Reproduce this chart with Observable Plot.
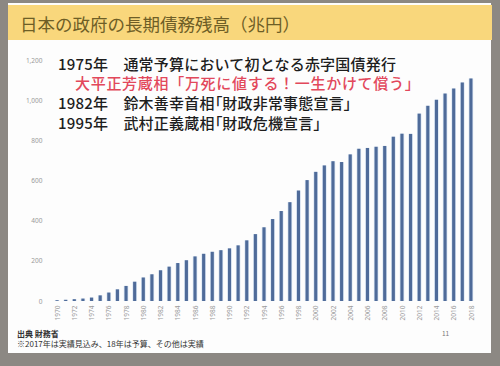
<!DOCTYPE html>
<html>
<head>
<meta charset="utf-8">
<script src="https://cdn.jsdelivr.net/npm/d3@7"></script>
<script src="https://cdn.jsdelivr.net/npm/@observablehq/plot@0.6"></script>
<style>
  html, body { margin: 0; padding: 0; }
  #wrap { position: relative; width: 500px; height: 366px; background: #8c8883; overflow: hidden;
          font-family: "Noto Sans CJK JP", "Noto Sans", sans-serif; }
  #slide { position: absolute; left: 8px; top: 3px; width: 483px; height: 350px; background: #fdfdfd; }
  #titlebar { position: absolute; left: 8px; top: 5px; width: 484px; height: 35px; background: #f9d77c; }
  #title { position: absolute; left: 20px; top: 11px; font-size: 17.5px; line-height: 26px; color: #6e5e26; white-space: nowrap; }
  #chart { position: absolute; left: 0; top: 0; }
  .ann { position: absolute; white-space: nowrap; font-size: 15px; line-height: 16px; color: #1e1e1e; font-weight: 500; letter-spacing: 0.2px; }
  .red { color: #e2485b; letter-spacing: 0.7px; }
  .pal { font-feature-settings: "palt"; }
  .foot { position: absolute; left: 17px; white-space: nowrap; font-size: 8px; line-height: 10px; color: #333; }
</style>
</head>
<body>
<div id="wrap">
  <div id="slide"></div>
  <div id="titlebar"></div>
  <div id="title">日本の政府の長期債務残高（兆円）</div>
  <div id="chart"></div>
  <div class="ann" style="left:58px; top:56px;">1975年&#x3000;通常予算において初となる赤字国債発行</div>
  <div class="ann red" style="left:75px; top:75px;">大平正芳蔵相「万死に値する！一生かけて償う」</div>
  <div class="ann pal" style="left:58px; top:95px;">1982年&#x3000;鈴木善幸首相「財政非常事態宣言」</div>
  <div class="ann pal" style="left:58px; top:115px;">1995年&#x3000;武村正義蔵相「財政危機宣言」</div>
  <div class="foot" style="top:329px; font-weight:bold;">出典 財務省</div>
  <div class="foot" style="top:339px;">※2017年は実績見込み、18年は予算、その他は実績</div>
  <div class="foot" style="left:442px; top:328px; font-size:6.5px; color:#777;">11</div>
</div>
<script>
const years = [1970,1971,1972,1973,1974,1975,1976,1977,1978,1979,
               1980,1981,1982,1983,1984,1985,1986,1987,1988,1989,
               1990,1991,1992,1993,1994,1995,1996,1997,1998,1999,
               2000,2001,2002,2003,2004,2005,2006,2007,2008,2009,
               2010,2011,2012,2013,2014,2015,2016,2017,2018];
const debt = [4,6,9,12,17,28,42,58,75,96,
              117,133,153,171,189,203,222,235,245,253,
              262,277,302,333,367,408,448,492,550,602,
              643,675,696,692,730,758,762,768,772,818,
              833,832,933,972,1002,1033,1058,1088,1108];
const xTickLabels = [1970,1972,1974,1976,1978,1980,1982,1984,1986,1988,1990,1992,1994,
                     1996,1998,2000,2002,2004,2006,2008,2010,2012,2014,2016,2018];
const yTicks = [0,200,400,600,800,1000,1200];
const gridTicks = [200,400,600,800,1000,1200];

const data = years.map((y, i) => ({year: y, value: debt[i]}));

const chart = Plot.plot({
  width: 500,
  height: 366,
  marginLeft: 50,
  marginRight: 22,
  marginTop: 60,
  marginBottom: 65,
  style: {background: "transparent", overflow: "visible", fontFamily: "Noto Sans, sans-serif"},
  x: {type: "band", domain: years, padding: 0.64, label: null},
  y: {domain: [0, 1200], label: null},
  marks: [
    Plot.ruleY(gridTicks, {x1: 53, x2: 478, stroke: "#e3e3e3", strokeWidth: 1}),
    Plot.barY(data, {x: "year", y: "value", fill: "#b4cde9", fillOpacity: 0.5, insetLeft: -0.7, insetRight: -0.7}),
    Plot.barY(data, {x: "year", y: "value", fill: "#4f6b99"}),
    Plot.axisY(yTicks, {tickFormat: d3.format(","), tickSize: 0, tickPadding: 8, fontSize: 6.5, fill: "#9a9a9a", label: null}),
    Plot.axisX(xTickLabels, {tickFormat: d => String(d), tickSize: 0, tickPadding: 4, tickRotate: -90, fontSize: 6.5, fill: "#9a9a9a", label: null})
  ]
});
document.getElementById("chart").appendChild(chart);
</script>
</body>
</html>
